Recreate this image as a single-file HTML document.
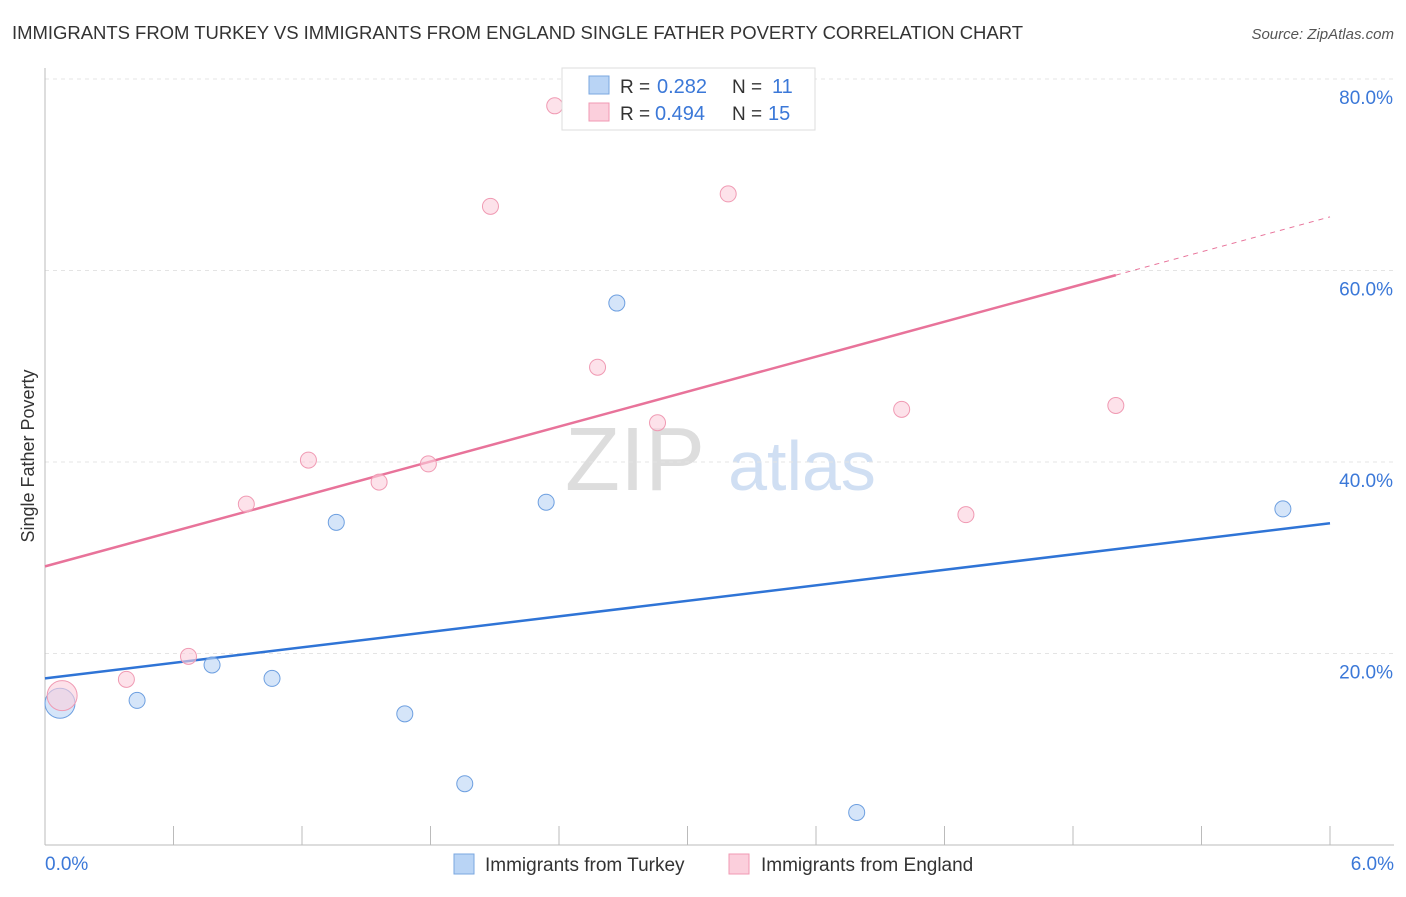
<!DOCTYPE html>
<html><head><meta charset="utf-8"><style>
body{margin:0;background:#fff;font-family:"Liberation Sans",sans-serif;}
svg text{font-family:"Liberation Sans",sans-serif;}
</style></head><body>
<svg id="chart" width="1406" height="892" xmlns="http://www.w3.org/2000/svg">
<text x="12" y="39" font-size="18.5" fill="#333" textLength="1011">IMMIGRANTS FROM TURKEY VS IMMIGRANTS FROM ENGLAND SINGLE FATHER POVERTY CORRELATION CHART</text>
<text x="1394" y="39" font-size="15" fill="#555" text-anchor="end" font-style="italic">Source: ZipAtlas.com</text>
<text x="34" y="456" font-size="18" fill="#333" text-anchor="middle" transform="rotate(-90 34 456)">Single Father Poverty</text>
<text x="635" y="490" font-size="90" fill="#ddd" font-family="Liberation Serif" text-anchor="middle">ZIP</text>
<text x="802" y="490" font-size="70" fill="#d0dff3" text-anchor="middle">atlas</text>
<g id="grid"></g><g id="axes"></g><g id="lines"></g><g id="points"></g>
<g>
<rect x="562" y="68" width="253" height="62" fill="#fff" stroke="#ddd"/>
<rect x="589" y="76" width="20" height="18" fill="#b9d4f5" stroke="#7aa7e0"/>
<text x="620" y="93" font-size="19" fill="#333">R =</text>
<text x="657" y="93" font-size="20" fill="#3b78d8">0.282</text>
<text x="732" y="93" font-size="19" fill="#333">N =</text>
<text x="772" y="93" font-size="20" fill="#3b78d8">11</text>
<rect x="589" y="103" width="20" height="18" fill="#fbcfdc" stroke="#f09ab3"/>
<text x="620" y="120" font-size="19" fill="#333">R =</text>
<text x="655" y="120" font-size="20" fill="#3b78d8">0.494</text>
<text x="732" y="120" font-size="19" fill="#333">N =</text>
<text x="768" y="120" font-size="20" fill="#3b78d8">15</text>
</g>
<g>
<rect x="454" y="854" width="20" height="20" fill="#b9d4f5" stroke="#7aa7e0"/>
<text x="485" y="871" font-size="19" fill="#333">Immigrants from Turkey</text>
<rect x="729" y="854" width="20" height="20" fill="#fbcfdc" stroke="#f09ab3"/>
<text x="761" y="871" font-size="19" fill="#333">Immigrants from England</text>
</g>
</svg>
<script>
const turkeyX=[0.07,0.43,0.78,1.06,1.36,1.68,1.96,2.34,2.67,3.79,5.78];
const turkeyY=[14.8,15.1,18.8,17.4,33.7,13.7,6.4,35.8,56.6,3.4,35.1];
const englandX=[0.08,0.38,0.67,0.94,1.23,1.56,1.79,2.08,2.38,2.58,2.86,3.19,4.0,4.3,5.0];
const englandY=[15.6,17.3,19.7,35.6,40.2,37.9,39.8,66.7,77.2,49.9,44.1,68.0,45.5,34.5,45.9];
const yTicks=[20,40,60,80];
const xTickLabels=["0.0%","6.0%"];
const turkeyLine=[17.4,33.6];
const englandLine=[29.1,65.6];
const englandSolidEnd=5.0;
const NS="http://www.w3.org/2000/svg";
const X=v=>45+v/6*1285, Y=v=>845-v/20*191.5;
function mk(p,t,a){const e=document.createElementNS(NS,t);for(const k in a)e.setAttribute(k,a[k]);document.getElementById(p).appendChild(e);return e;}
yTicks.forEach(t=>{
 const l=mk('grid','line',{x1:45,x2:1394,y1:Y(t),y2:Y(t),stroke:'#e4e4e4','stroke-dasharray':'4,4'});
 
 
 const tx=mk('grid','text',{x:1393,y:Y(t)+25,'font-size':19,fill:'#3b78d8','text-anchor':'end'});tx.textContent=t.toFixed(1)+'%';
 
 
});
let a=mk('axes','line',{x1:45,x2:1394,y1:845,y2:845,stroke:'#bbb'});


a=mk('axes','line',{x1:45,x2:45,y1:68,y2:845,stroke:'#bbb'});


for(let i=0;i<=10;i++){const t=mk('axes','line',{x1:X(i*0.6),x2:X(i*0.6),y1:826,y2:845,stroke:'#bbb'});
 
 }
[[0,'start',45],[6,'end',1394]].forEach((d,i)=>{const t=mk('axes','text',{x:d[2],y:870,'font-size':19,fill:'#3b78d8','text-anchor':d[1]});t.textContent=xTickLabels[i];
 
 });
const f=(L,x)=>L[0]+(L[1]-L[0])*x/6;
let l=mk('lines','line',{x1:X(0),y1:Y(f(turkeyLine,0)),x2:X(6),y2:Y(f(turkeyLine,6)),stroke:'#2f74d6','stroke-width':2.5});


l=mk('lines','line',{x1:X(0),y1:Y(f(englandLine,0)),x2:X(englandSolidEnd),y2:Y(f(englandLine,englandSolidEnd)),stroke:'#e8739a','stroke-width':2.5});


l=mk('lines','line',{x1:X(englandSolidEnd),y1:Y(f(englandLine,englandSolidEnd)),x2:X(6),y2:Y(f(englandLine,6)),stroke:'#e8739a','stroke-width':1,'stroke-dasharray':'5,5'});


function pts(xs,ys,fill,stroke,name){xs.forEach((x,i)=>{const c=mk('points','circle',{cx:X(x),cy:Y(ys[i]),r:i==0?15:8,fill:fill,'fill-opacity':0.6,stroke:stroke,'stroke-width':1});
 
 });}
pts(turkeyX,turkeyY,'#b9d4f5','#6d9fe0','turkey-point');
pts(englandX,englandY,'#fbcfdc','#f09ab3','england-point');
</script>
</body></html>
